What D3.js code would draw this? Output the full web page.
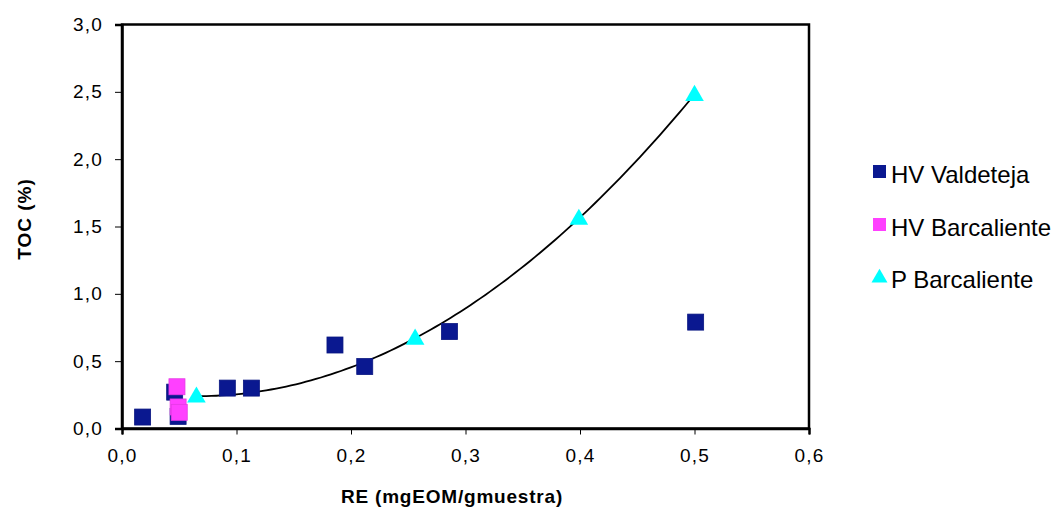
<!DOCTYPE html>
<html lang="es">
  <head>
    <script src="https://d3js.org/d3.v7.min.js"></script>
    <meta charset="utf-8">
    <title>TOC vs RE</title>
    <style>
      body { margin: 0; background: #fff; }
      text { font-family: "Liberation Sans", Arial, sans-serif; }
    </style>
  </head>
  <body>
    <svg id="chart"></svg>
    <script type="text/javascript">

    // series values
    var valdetejaX = [0.018, 0.046, 0.049, 0.092, 0.113, 0.186, 0.212, 0.286, 0.501];
    var valdetejaY = [0.085, 0.27, 0.09, 0.30, 0.30, 0.62, 0.46, 0.72, 0.79];
    var barcalHVX = [0.048, 0.049, 0.050];
    var barcalHVY = [0.31, 0.16, 0.12];
    var barcalPX = [0.065, 0.256, 0.399, 0.500];
    var barcalPY = [0.24, 0.67, 1.56, 2.48];
    var seriesNames = ["HV Valdeteja", "HV Barcaliente", "P Barcaliente"];
    var xTicks = [0, 0.1, 0.2, 0.3, 0.4, 0.5, 0.6];
    var yTicks = [0, 0.5, 1, 1.5, 2, 2.5, 3];

    var width = 1057, height = 507;
    var mLeft = 122, mRight = 809, mTop = 24.5, mBottom = 428.5;

    var svg = d3.select("#chart")
      .attr("width", width)
      .attr("height", height);

    var x = d3.scaleLinear().domain([0, 0.6]).range([mLeft, mRight]);
    var y = d3.scaleLinear().domain([0, 3]).range([mBottom, mTop]);
    var fmt = function(d) { return d3.format(".1f")(d).replace(".", ","); };

    // plot box
    svg.append("rect")
      .attr("x", mLeft).attr("y", mTop)
      .attr("width", mRight - mLeft).attr("height", mBottom - mTop)
      .attr("fill", "none").attr("stroke", "#000").attr("stroke-width", 2.5);

    var xAxis = svg.append("g")
      .attr("transform", "translate(0," + mBottom + ")")
      .call(d3.axisBottom(x).tickValues(xTicks).tickFormat(fmt).tickSize(6).tickPadding(14));
    var yAxis = svg.append("g")
      .attr("transform", "translate(" + mLeft + ",0)")
      .call(d3.axisLeft(y).tickValues(yTicks).tickFormat(fmt).tickSize(7).tickPadding(12));

    [xAxis, yAxis].forEach(function(a) {
      a.attr("font-size", 19).attr("font-family", "Liberation Sans, Arial, sans-serif");
      a.select(".domain").attr("stroke", "#000").attr("stroke-width", 2.5);
      a.selectAll(".tick line").attr("stroke", "#000").attr("stroke-width", 1);
      a.selectAll(".tick text").attr("fill", "#000").attr("letter-spacing", 1.2);
    });

    // axis titles
    svg.append("text")
      .attr("x", 452).attr("y", 503)
      .attr("text-anchor", "middle")
      .attr("font-size", 19).attr("font-weight", "bold")
      .attr("letter-spacing", 0.8)
      .text("RE (mgEOM/gmuestra)");
    svg.append("text")
      .attr("transform", "translate(31,219) rotate(-90)")
      .attr("text-anchor", "middle")
      .attr("font-size", 19).attr("font-weight", "bold")
      .attr("letter-spacing", 1)
      .text("TOC (%)");

    // quadratic least squares trend line through P Barcaliente
    function polyfit2(xs, ys) {
      var n = xs.length, s = [0, 0, 0, 0, 0], t = [0, 0, 0];
      for (var i = 0; i < n; i++) {
        for (var k = 0; k < 5; k++) s[k] += Math.pow(xs[i], k);
        for (var k2 = 0; k2 < 3; k2++) t[k2] += ys[i] * Math.pow(xs[i], k2);
      }
      var A = [[s[0], s[1], s[2], t[0]], [s[1], s[2], s[3], t[1]], [s[2], s[3], s[4], t[2]]];
      for (var c = 0; c < 3; c++) {
        for (var r = c + 1; r < 3; r++) {
          var f = A[r][c] / A[c][c];
          for (var j = c; j < 4; j++) A[r][j] -= f * A[c][j];
        }
      }
      var b = [0, 0, 0];
      for (var r2 = 2; r2 >= 0; r2--) {
        var v = A[r2][3];
        for (var j2 = r2 + 1; j2 < 3; j2++) v -= A[r2][j2] * b[j2];
        b[r2] = v / A[r2][r2];
      }
      return b;
    }
    var coef = polyfit2(barcalPX, barcalPY);
    var x0 = d3.min(barcalPX), x1 = d3.max(barcalPX);
    var curve = d3.range(0, 101).map(function(i) {
      var xv = x0 + (x1 - x0) * i / 100;
      return [xv, coef[0] + coef[1] * xv + coef[2] * xv * xv];
    });
    svg.append("path")
      .datum(curve)
      .attr("fill", "none").attr("stroke", "#000").attr("stroke-width", 1.8)
      .attr("d", d3.line().x(function(d) { return x(d[0]); }).y(function(d) { return y(d[1]); }));

    // markers
    var sq = 16;
    function squares(xs, ys, color) {
      svg.append("g").selectAll("rect")
        .data(d3.zip(xs, ys))
        .enter().append("rect")
        .attr("x", function(d) { return x(d[0]) - sq / 2; })
        .attr("y", function(d) { return y(d[1]) - sq / 2; })
        .attr("width", sq).attr("height", sq)
        .attr("fill", color)
        .attr("stroke", d3.color(color).darker(0.3)).attr("stroke-width", 0.8);
    }
    squares(valdetejaX, valdetejaY, "#0a1890");
    squares(barcalHVX, barcalHVY, "#ff40ff");

    var tri = d3.symbol().type(d3.symbolTriangle).size(150);
    svg.append("g").selectAll("path")
      .data(d3.zip(barcalPX, barcalPY))
      .enter().append("path")
      .attr("transform", function(d) { return "translate(" + x(d[0]) + "," + (y(d[1]) + 1) + ")"; })
      .attr("d", tri)
      .attr("fill", "#00ffff");

    // legend
    var legColors = ["#0a1890", "#ff40ff", "#00ffff"];
    var legBase = [183, 236, 288];
    var legend = svg.append("g").attr("class", "legend");
    legend.selectAll("g").data(seriesNames)
      .enter().append("g")
      .each(function(d, i) {
        var g = d3.select(this);
        if (i < 2) {
          g.append("rect")
            .attr("x", 873).attr("y", legBase[i] - 18)
            .attr("width", 13).attr("height", 13)
            .attr("fill", legColors[i]);
        } else {
          g.append("path")
            .attr("transform", "translate(879.5," + (legBase[i] - 10) + ")")
            .attr("d", d3.symbol().type(d3.symbolTriangle).size(110))
            .attr("fill", legColors[i]);
        }
        g.append("text")
          .attr("x", 891).attr("y", legBase[i])
          .attr("font-size", 24)
          .text(d);
      });

    </script>
  </body>
</html>
